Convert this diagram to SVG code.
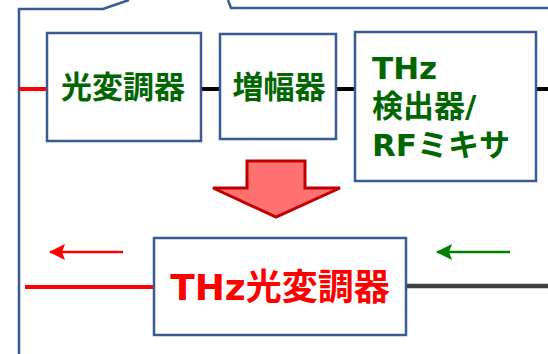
<svg xmlns="http://www.w3.org/2000/svg" width="548" height="354" viewBox="0 0 548 354">
<defs>
<style>
.box{fill:#fff;stroke:#3A5A95;stroke-width:2.5}
.g{fill:#006600;font-family:"DejaVu Sans","Noto Sans CJK JP",sans-serif;font-weight:bold;font-size:31px}
.r{fill:#FF0000;font-family:"DejaVu Sans","Noto Sans CJK JP",sans-serif;font-weight:bold;font-size:36px}
</style>
<marker id="ar" markerWidth="17" markerHeight="16" refX="15" refY="8" orient="auto" markerUnits="userSpaceOnUse"><path d="M0,0 L16,8 L0,16 L3,8 z" fill="#FF0000"/></marker>
<marker id="ag" markerWidth="17" markerHeight="16" refX="15" refY="8" orient="auto" markerUnits="userSpaceOnUse"><path d="M0,0 L16,8 L0,16 L3,8 z" fill="#008000"/></marker>
</defs>
<rect width="548" height="354" fill="#fff"/>
<g id="frame" fill="none" stroke="#3A5A95" stroke-width="2.5">
<path d="M19,354 L19,9 L103,9 L129,0"/>
<path d="M228,0 L231,8 L548,8"/>
</g>
<g id="connectors">
<line x1="19" y1="89" x2="47" y2="89" stroke="#FF0000" stroke-width="4"/>
<line x1="201" y1="89" x2="220" y2="89" stroke="#000" stroke-width="4"/>
<line x1="336" y1="89" x2="355" y2="89" stroke="#000" stroke-width="4"/>
<line x1="536" y1="89" x2="548" y2="89" stroke="#000" stroke-width="4"/>
<line x1="25" y1="287" x2="154" y2="287" stroke="#FF0000" stroke-width="4"/>
<line x1="406" y1="286" x2="548" y2="286" stroke="#404040" stroke-width="4.5"/>
<line x1="123" y1="252" x2="50" y2="252" stroke="#FF0000" stroke-width="2.5" marker-end="url(#ar)"/>
<line x1="510" y1="252" x2="437" y2="252" stroke="#008000" stroke-width="2.5" marker-end="url(#ag)"/>
</g>
<g id="arrow">
<path d="M247,161 L305,161 L305,188 L340,188 L276,217 L213,188 L247,188 Z" fill="#FF7070" stroke="#C00000" stroke-width="3"/>
</g>
<g id="node1">
<rect class="box" x="47" y="33" width="154" height="108"/>
<text class="g" x="123" y="98" text-anchor="middle">光変調器</text>
</g>
<g id="node2">
<rect class="box" x="220" y="34" width="116" height="105"/>
<text class="g" x="279" y="98" text-anchor="middle">増幅器</text>
</g>
<g id="node3">
<rect class="box" x="355" y="32" width="181" height="149"/>
<text class="g" x="372" y="79">THz</text>
<text class="g" x="372" y="117">検出器/</text>
<text class="g" x="372" y="156">RFミキサ</text>
</g>
<g id="node4">
<rect class="box" x="154" y="238" width="252" height="97"/>
<text class="r" x="280" y="300" text-anchor="middle">THz光変調器</text>
</g>
</svg>
